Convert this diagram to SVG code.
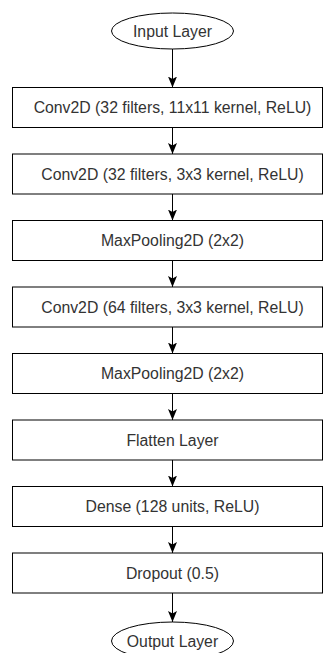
<svg xmlns="http://www.w3.org/2000/svg" width="325" height="653" viewBox="0 0 325 653">
<style>
.box{fill:#ffffff;stroke:#000000;stroke-width:1}
.lbl{font-family:"Liberation Sans",Arial,sans-serif;font-size:15.8px;fill:#333333;text-anchor:middle}
.edge{stroke:#000000;stroke-width:1;fill:none;marker-end:url(#arr)}
</style>
<defs>
<marker id="arr" viewBox="0 0 11 10" refX="11" refY="5" markerWidth="11" markerHeight="10" markerUnits="userSpaceOnUse" orient="auto">
<path d="M0,0.5 L11,5 L0,9.5 L2.5,5 Z" fill="#000000"/>
</marker>
</defs>
<rect width="325" height="653" fill="#ffffff"/>
<g id="connectors">
<line class="edge" x1="172.5" y1="49" x2="172.5" y2="87.5"/>
<line class="edge" x1="172.5" y1="127.5" x2="172.5" y2="154"/>
<line class="edge" x1="172.5" y1="194" x2="172.5" y2="220.5"/>
<line class="edge" x1="172.5" y1="260.5" x2="172.5" y2="287"/>
<line class="edge" x1="172.5" y1="327" x2="172.5" y2="353.5"/>
<line class="edge" x1="172.5" y1="393.5" x2="172.5" y2="420"/>
<line class="edge" x1="172.5" y1="460" x2="172.5" y2="486.5"/>
<line class="edge" x1="172.5" y1="526.5" x2="172.5" y2="553"/>
<line class="edge" x1="172.5" y1="593" x2="172.5" y2="622"/>
</g>
<g id="input">
<ellipse class="box" cx="172.5" cy="31" rx="61" ry="18"/>
<text class="lbl" x="172.5" y="36.5">Input Layer</text>
</g>
<g id="conv1">
<rect class="box" x="12.5" y="87.5" width="310" height="40"/>
<text class="lbl" x="172.5" y="113">Conv2D (32 filters, 11x11 kernel, ReLU)</text>
</g>
<g id="conv2">
<rect class="box" x="12.5" y="154" width="310" height="40"/>
<text class="lbl" x="172.5" y="179.5">Conv2D (32 filters, 3x3 kernel, ReLU)</text>
</g>
<g id="pool1">
<rect class="box" x="12.5" y="220.5" width="310" height="40"/>
<text class="lbl" x="172.5" y="246">MaxPooling2D (2x2)</text>
</g>
<g id="conv3">
<rect class="box" x="12.5" y="287" width="310" height="40"/>
<text class="lbl" x="172.5" y="312.5">Conv2D (64 filters, 3x3 kernel, ReLU)</text>
</g>
<g id="pool2">
<rect class="box" x="12.5" y="353.5" width="310" height="40"/>
<text class="lbl" x="172.5" y="379">MaxPooling2D (2x2)</text>
</g>
<g id="flatten">
<rect class="box" x="12.5" y="420" width="310" height="40"/>
<text class="lbl" x="172.5" y="445.5">Flatten Layer</text>
</g>
<g id="dense">
<rect class="box" x="12.5" y="486.5" width="310" height="40"/>
<text class="lbl" x="172.5" y="512">Dense (128 units, ReLU)</text>
</g>
<g id="dropout">
<rect class="box" x="12.5" y="553" width="310" height="40"/>
<text class="lbl" x="172.5" y="578.5">Dropout (0.5)</text>
</g>
<g id="output">
<ellipse class="box" cx="172.5" cy="641" rx="61" ry="19"/>
<text class="lbl" x="172.5" y="646.5">Output Layer</text>
</g>
</svg>
